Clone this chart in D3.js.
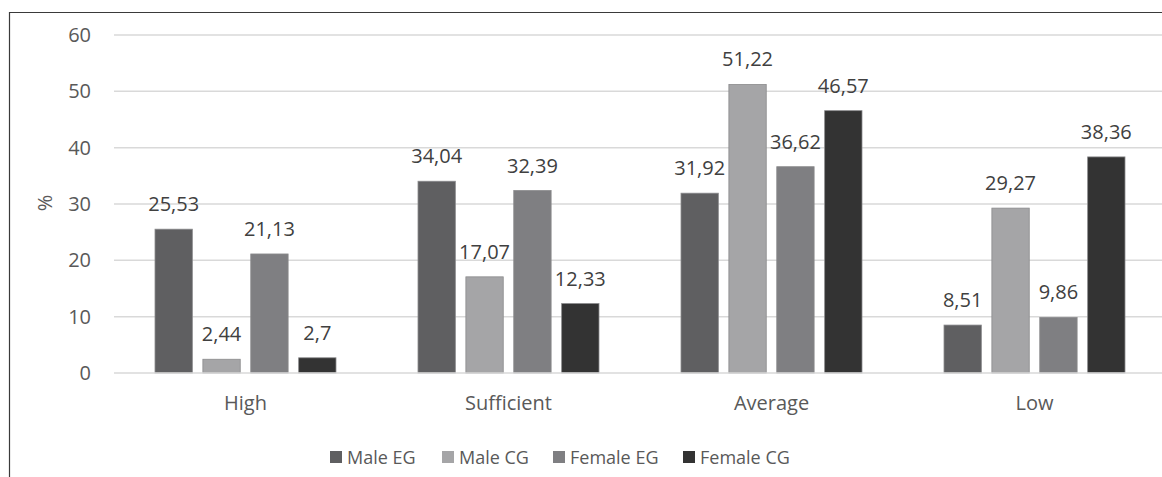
<!DOCTYPE html>
<html>
<head>
<meta charset="utf-8">
<script src="https://cdn.jsdelivr.net/npm/d3@7/dist/d3.min.js"></script>
<style>
  html, body { margin: 0; padding: 0; background: #fff; }
  svg { display: block; font-family: "Open Sans", "Noto Sans", sans-serif; }
</style>
</head>
<body>
<svg id="chart" width="1162" height="477"></svg>
<script>
// Achievement level categories and groups
const categories = ["High", "Sufficient", "Average", "Low"];
const seriesNames = ["Male EG", "Male CG", "Female EG", "Female CG"];
const maleEG   = [25.53, 34.04, 31.92, 8.51];
const maleCG   = [2.44, 17.07, 51.22, 29.27];
const femaleEG = [21.13, 32.39, 36.62, 9.86];
const femaleCG = [2.7, 12.33, 46.57, 38.36];
const yTicks = [0, 10, 20, 30, 40, 50, 60];
const seriesColors = ["#5f5f61", "#a5a5a7", "#7f7f82", "#333333"];

const seriesValues = [maleEG, maleCG, femaleEG, femaleCG];
const fmt = v => String(v).replace(".", ",");

const svg = d3.select("#chart");

// Outer frame (left and top edges)
svg.append("path")
  .attr("d", "M9.5,477 L9.5,12.5 L1162,12.5")
  .attr("fill", "none")
  .attr("stroke", "#3a3a3a")
  .attr("stroke-width", 1.2);

const x = d3.scaleBand().domain(categories).range([114, 1166]);
const xInner = d3.scaleBand().domain(seriesNames)
  .range([41, x.bandwidth() - 41]).paddingInner(0.22);
const y = d3.scaleLinear().domain([0, 60]).range([373, 35]);

// Gridlines
svg.append("g").selectAll("line").data(yTicks.filter(t => t > 0)).join("line")
  .attr("x1", 114).attr("x2", 1166)
  .attr("y1", d => y(d)).attr("y2", d => y(d))
  .attr("stroke", "#d9d9d9").attr("stroke-width", 1.5);

// Y axis tick labels
const yAxis = d3.axisLeft(y).tickValues(yTicks).tickSize(0).tickPadding(0);
const gy = svg.append("g").attr("transform", "translate(91,0)").call(yAxis);
gy.select(".domain").remove();
gy.selectAll("text")
  .attr("font-size", 20).attr("fill", "#595959")
  .attr("font-family", "'Open Sans', sans-serif");

// Y axis title
svg.append("text")
  .attr("transform", "translate(44,203) rotate(-90)")
  .attr("text-anchor", "middle").attr("dominant-baseline", "central")
  .attr("font-size", 20).attr("fill", "#595959")
  .text("%");

// Bars
const groups = svg.append("g").selectAll("g").data(categories).join("g")
  .attr("transform", d => `translate(${x(d)},0)`);

groups.selectAll("rect")
  .data((c, ci) => seriesNames.map((s, si) => ({ s, si, v: seriesValues[si][ci] })))
  .join("rect")
  .attr("x", d => xInner(d.s))
  .attr("width", xInner.bandwidth())
  .attr("y", d => y(d.v))
  .attr("height", d => y(0) - y(d.v))
  .attr("fill", d => seriesColors[d.si])
  .attr("stroke", "#8a8a8c").attr("stroke-width", 0.8);

// Value labels
groups.selectAll("text.val")
  .data((c, ci) => seriesNames.map((s, si) => ({ s, si, v: seriesValues[si][ci] })))
  .join("text").attr("class", "val")
  .attr("x", d => xInner(d.s) + xInner.bandwidth() / 2)
  .attr("y", d => y(d.v) - 18)
  .attr("text-anchor", "middle")
  .attr("font-size", 20).attr("fill", "#404040")
  .text(d => fmt(d.v));

// Baseline
svg.append("line")
  .attr("x1", 114).attr("x2", 1166)
  .attr("y1", y(0)).attr("y2", y(0))
  .attr("stroke", "#d9d9d9").attr("stroke-width", 1.5);

// Category labels
const xAxis = d3.axisBottom(x).tickSize(0).tickPadding(0);
const gx = svg.append("g").attr("transform", "translate(0,396)").call(xAxis);
gx.select(".domain").remove();
gx.selectAll("text")
  .attr("font-size", 20).attr("fill", "#595959")
  .attr("font-family", "'Open Sans', sans-serif")
  .attr("dy", "0.72em");

// Legend
const legendX = [330, 442, 553, 683];
const legend = svg.append("g").selectAll("g").data(seriesNames).join("g")
  .attr("transform", (d, i) => `translate(${legendX[i]},451)`);
legend.append("rect")
  .attr("width", 12).attr("height", 12)
  .attr("fill", (d, i) => seriesColors[i]);
legend.append("text")
  .attr("x", 17).attr("y", 6)
  .attr("dominant-baseline", "central")
  .attr("font-size", 18).attr("fill", "#595959")
  .text(d => d);
</script>
</body>
</html>
